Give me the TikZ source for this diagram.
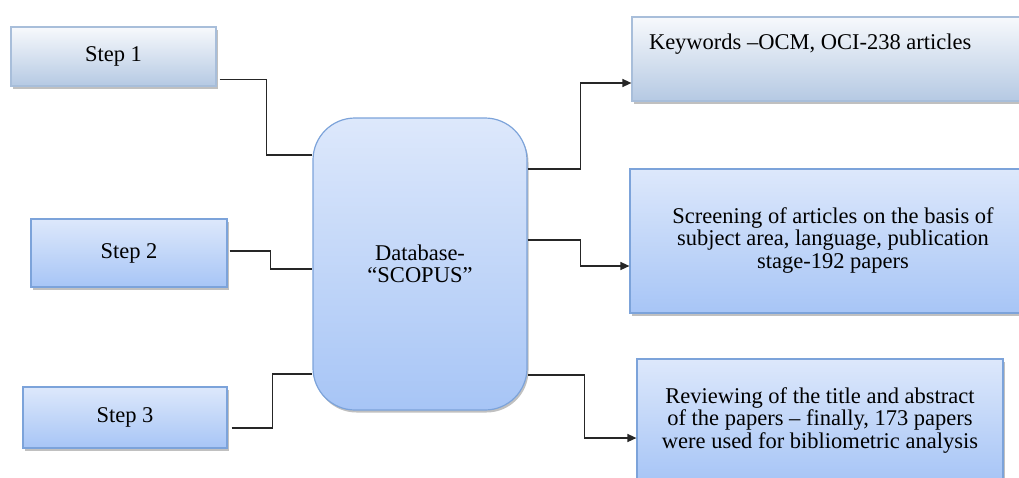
\documentclass[tikz,border=0pt]{standalone}
\usepackage{fontspec}
\setmainfont{Liberation Serif}
\usetikzlibrary{shadows,arrows.meta}
\definecolor{bluetop}{HTML}{DDE8FB}
\definecolor{bluebot}{HTML}{A7C5F6}
\definecolor{blueline}{HTML}{7CA3DA}
\definecolor{greytop}{HTML}{F7F9FC}
\definecolor{greybot}{HTML}{B5C9E3}
\definecolor{greyline}{HTML}{A8BEDA}
\tikzset{
  shad/.style={drop shadow={shadow xshift=1.5pt,shadow yshift=-2.5pt,fill=black!45,opacity=.55}},
  bluebox/.style={shad,draw=blueline,line width=1.2pt,top color=bluetop,bottom color=bluebot,inner sep=0pt,align=center},
  greybox/.style={shad,draw=greyline,line width=1.2pt,top color=greytop,bottom color=greybot,inner sep=0pt},
  conn/.style={line width=1.4pt,draw=black!85},
  arr/.style={conn,-{Triangle[length=9pt,width=8pt]}},
  txt/.style={font=\fontsize{22.5pt}{22.5pt}\selectfont}
}
\begin{document}
\begin{tikzpicture}[x=1pt,y=-1pt]
\useasboundingbox (0,0) rectangle (1019,477);
\clip (0,0) rectangle (1019,477);
\node[greybox,txt,minimum width=205pt,minimum height=59pt] (s1) at (113.5,56.5) {\raisebox{2pt}{Step 1}};
\node[bluebox,txt,minimum width=196pt,minimum height=68pt] (s2) at (129,253) {Step 2};
\node[bluebox,txt,minimum width=204pt,minimum height=61pt] (s3) at (125,417.5) {Step 3};
\node[bluebox,txt,rounded corners=42pt,minimum width=214pt,minimum height=292pt] (db) at (420,264) {Database-\\``SCOPUS''};
\node[greybox,txt,minimum width=400pt,minimum height=84pt] (k) at (832,59)
  {\parbox[c][84pt][t]{400pt}{\vspace*{17pt}\hspace*{17pt}Keywords –OCM, OCI-238 articles}};
\node[bluebox,txt,minimum width=406pt,minimum height=144pt] (b2) at (833,241)
  {\raisebox{-4pt}{\begin{tabular}{@{}c@{}}Screening of articles on the basis of\\subject area, language, publication\\stage-192 papers\end{tabular}}};
\node[bluebox,txt,minimum width=366pt,minimum height=122pt] (b3) at (820,420)
  {Reviewing of the title and abstract\\of the papers – finally, 173 papers\\were used for bibliometric analysis};
\draw[conn] ([xshift=3pt,yshift=7pt]s1.south east) -- ++(47,0) |- ([yshift=109pt]db.west);
\draw[conn] ([xshift=2pt,yshift=2pt]s2.east) -- ++(41,0) |- ([yshift=-5pt]db.west);
\draw[conn] ([xshift=4pt,yshift=-10.5pt]s3.east) -- ++(41,0) |- ([yshift=-110pt]db.west);
\draw[arr] ([yshift=95pt]db.east) -- ++(53,0) |- ([yshift=-24pt]k.west);
\draw[arr] ([yshift=24pt]db.east) -- ++(53,0) |- ([yshift=-25pt]b2.west);
\draw[arr] ([yshift=-111pt]db.east) -- ++(57,0) |- ([yshift=-18pt]b3.west);
\end{tikzpicture}
\end{document}
